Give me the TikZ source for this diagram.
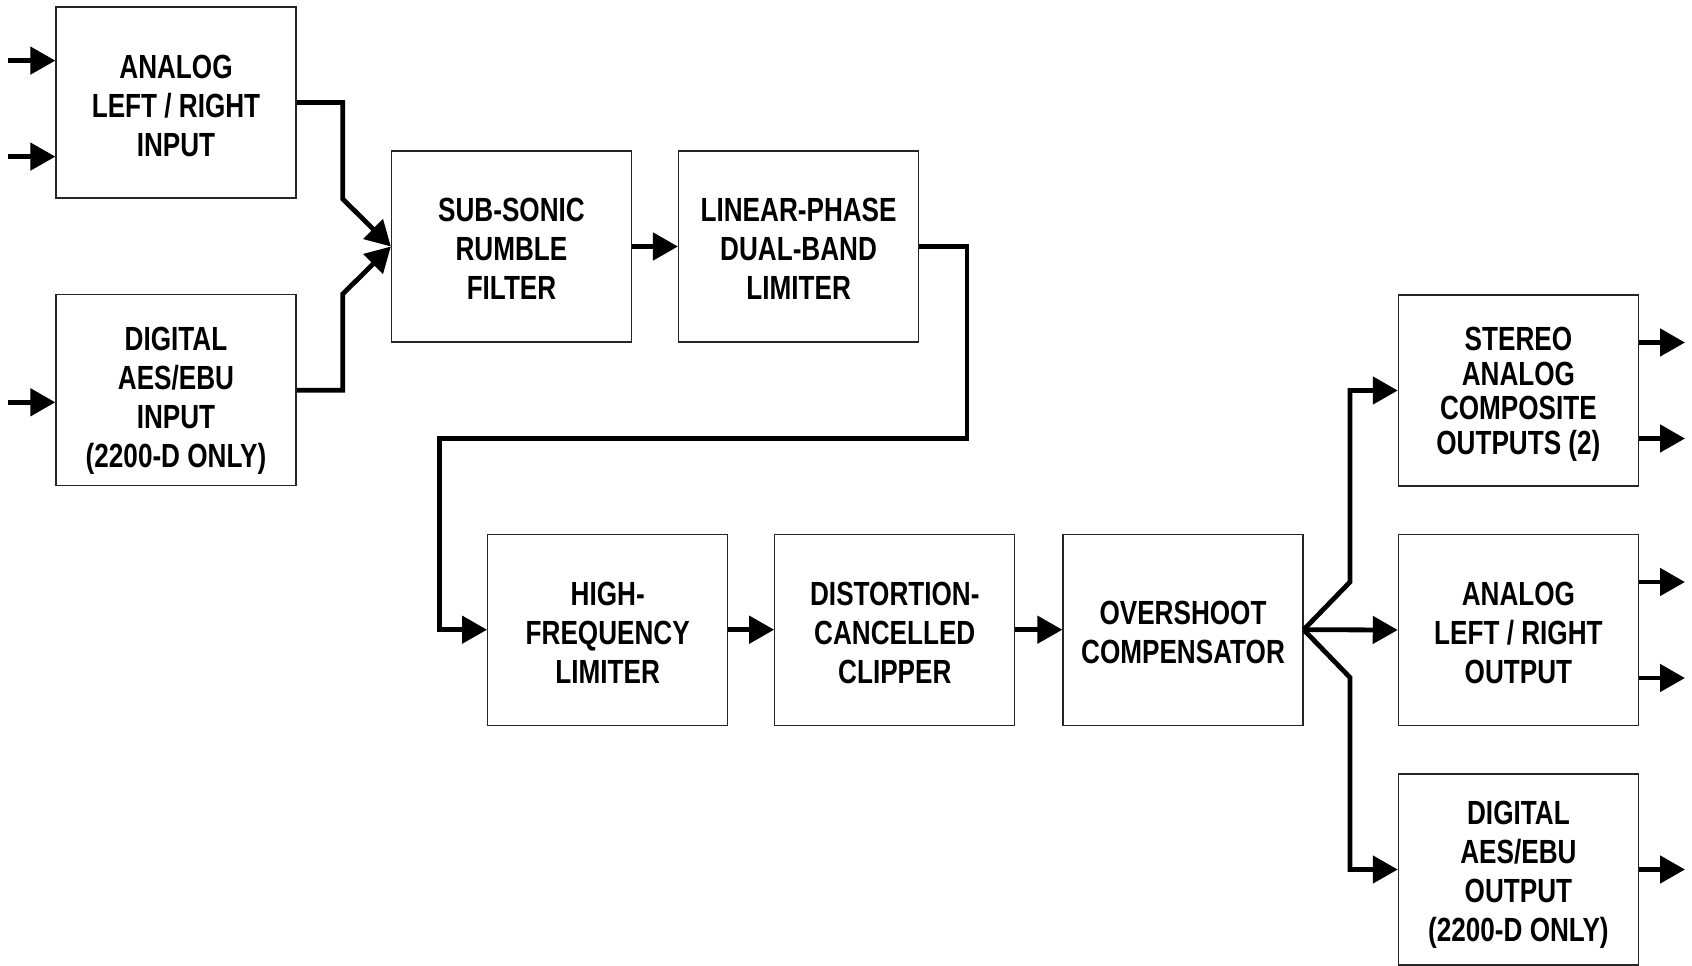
\documentclass[tikz,border=0pt]{standalone}
\usepackage{fontspec}
\usetikzlibrary{arrows.meta}
\newfontfamily\boxfont[FakeStretch=0.78]{Liberation Sans}
% first-line height and last-line depth struts fix the vertical position of the text
\newcommand\firstht[1]{\rule{0pt}{#1}}
\newcommand\lastdp{\rule[-8pt]{0pt}{0pt}}
\tikzset{
  blk/.style={draw=black!85, line width=1.3pt, minimum width=240pt, minimum height=191pt,
    inner sep=0pt, align=center, font={\boxfont\bfseries\fontsize{33.5}{38.8}\selectfont}},
  tight/.style={font={\boxfont\bfseries\fontsize{33.5}{34.5}\selectfont}},
  conn/.style={line width=4.8pt, line join=miter, -{Triangle[length=25pt,width=27pt]}}
}
\begin{document}
\begin{tikzpicture}[x=1pt,y=-1pt]
\useasboundingbox (0,0) rectangle (1692,966);
% boxes
\node[blk] (ain)  at (176,102.5)   {\firstht{38pt}ANALOG\\LEFT / RIGHT\\INPUT\lastdp};
\node[blk] (din)  at (176,390.2)   {\firstht{45.8pt}DIGITAL\\AES/EBU\\INPUT\\(2200-D ONLY)\lastdp};
\node[blk] (sub)  at (511.5,246.5) {\firstht{36pt}SUB-SONIC\\RUMBLE\\FILTER\lastdp};
\node[blk] (lin)  at (798.6,246.5) {\firstht{36pt}LINEAR-PHASE\\DUAL-BAND\\LIMITER\lastdp};
\node[blk] (hf)   at (607.7,629.7) {\firstht{37pt}HIGH-\\FREQUENCY\\LIMITER\lastdp};
\node[blk] (dist) at (894.8,629.7) {\firstht{37pt}DISTORTION-\\CANCELLED\\CLIPPER\lastdp};
\node[blk] (ovs)  at (1183,629.7)  {\firstht{36pt}OVERSHOOT\\COMPENSATOR\lastdp};
\node[blk,tight] (ster) at (1518.4,390.5) {\firstht{32.4pt}STEREO\\ANALOG\\COMPOSITE\\OUTPUTS (2)\lastdp};
\node[blk] (aout) at (1518.4,630)  {\firstht{37pt}ANALOG\\LEFT / RIGHT\\OUTPUT\lastdp};
\node[blk] (dout) at (1518.4,869.5) {\firstht{34.8pt}DIGITAL\\AES/EBU\\OUTPUT\\(2200-D ONLY)\lastdp};
% input arrows
\coordinate (i1) at (8.3,60.6);
\coordinate (i2) at (8.3,156.6);
\coordinate (i3) at (8.3,402.3);
\draw[conn] (i1) -- (i1 -| ain.west);
\draw[conn] (i2) -- (i2 -| ain.west);
\draw[conn] (i3) -- (i3 -| din.west);
% merge into sub-sonic
\draw[conn] (ain.east) -- (342.7,102.5) -- (342.7,199) -- (sub.west);
\draw[conn] (din.east) -- (342.7,390.2) -- (342.7,294) -- (sub.west);
\draw[conn] (sub.east) -- (lin.west);
\draw[conn] (lin.east) -- (967,246.5) -- (967,438.3) -- (439.3,438.3) -- (439.3,629.7) -- (hf.west);
\draw[conn] (hf.east) -- (dist.west);
\draw[conn] (dist.east) -- (ovs.west);
% fan out
\draw[conn] (ovs.east) -- (1350,582) -- (1350,390.5) -- (ster.west);
\draw[conn] (ovs.east) -- (aout.west);
\draw[conn] (ovs.east) -- (1350,677.5) -- (1350,869.5) -- (dout.west);
% output arrows
\coordinate (o1) at (1685,342.5);
\coordinate (o2) at (1685,438.5);
\coordinate (o3) at (1685,582);
\coordinate (o4) at (1685,678);
\coordinate (o5) at (1685,869.5);
\draw[conn] (o1 -| ster.east) -- (o1);
\draw[conn] (o2 -| ster.east) -- (o2);
\draw[conn] (o3 -| aout.east) -- (o3);
\draw[conn] (o4 -| aout.east) -- (o4);
\draw[conn] (o5 -| dout.east) -- (o5);
\end{tikzpicture}
\end{document}
